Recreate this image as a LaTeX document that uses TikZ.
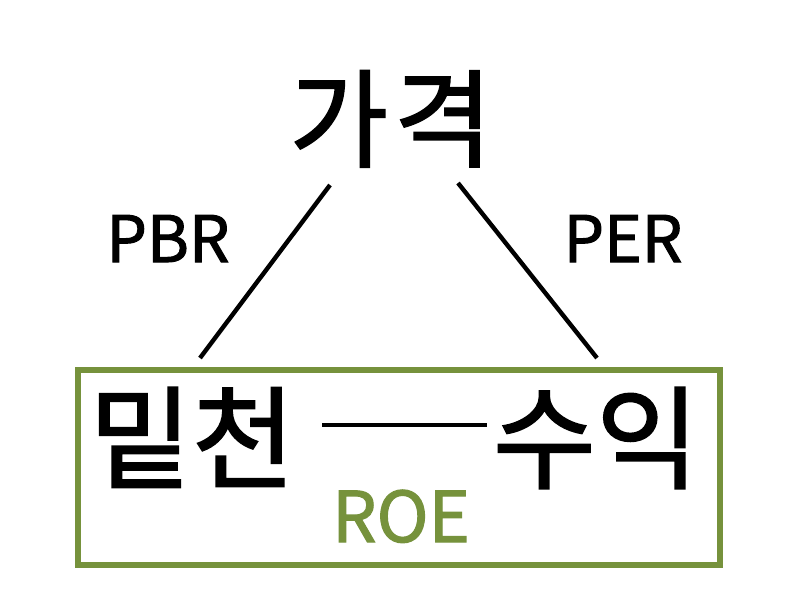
\documentclass[tikz,border=0pt]{standalone}
\usepackage{fontspec}
\setmainfont{Noto Sans CJK KR}[FakeBold=1.6]
\definecolor{boxgreen}{RGB}{118,146,60}
\begin{document}
\begin{tikzpicture}[x=1pt,y=-1pt,
  hangul/.style={inner sep=0pt, anchor=base, font=\fontsize{112}{112}\selectfont},
  latin/.style={inner sep=0pt, anchor=base, font=\fontsize{64}{64}\selectfont},
  conn/.style={line width=4.4pt, black}]
\useasboundingbox (0,0) rectangle (800,600);
\fill[white] (0,0) rectangle (800,600);
\node[draw=boxgreen, line width=5.5pt, minimum width=642pt, minimum height=195pt, inner sep=0pt] (box) at (399,467.5) {};
\node[hangul, font=\fontsize{107}{107}\selectfont] (price) at (391,159) {가\hspace{6pt}격};
\node[latin] (pbr) at (168,262) {PBR};
\node[latin] (per) at (623,262) {PER};
\node[hangul] (cap) at (192,480) {밑천};
\node[hangul] (earn) at (596,480) {수익};
\node[latin, text=boxgreen, font=\fontsize{70}{70}\selectfont] (roe) at (401,542) {ROE};
\coordinate (l1) at (330,185);
\coordinate (l2) at (200,358);
\coordinate (r1) at (458,183);
\coordinate (r2) at (597,358);
\coordinate (m1) at (322,425);
\coordinate (m2) at (487,425);
\draw[conn] (l1) -- (l2);
\draw[conn] (r1) -- (r2);
\draw[conn] (m1) -- (m2);
\end{tikzpicture}
\end{document}
